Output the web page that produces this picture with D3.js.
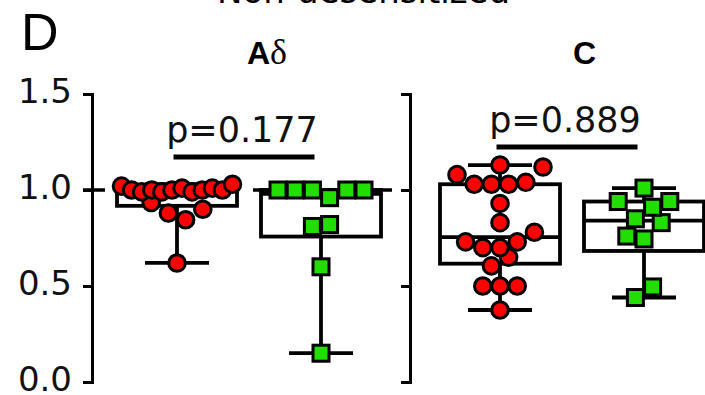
<!DOCTYPE html>
<html>
<head>
<meta charset="utf-8">
<script src="https://cdn.jsdelivr.net/npm/d3@7"></script>
<style>
  html, body { margin: 0; padding: 0; background: #fff; }
  svg { display: block; }
</style>
</head>
<body>
<svg id="chart" width="705" height="395"></svg>
<script>
// ---- data -------------------------------------------------------------
const fibreClasses = ["Aδ", "C"];
const groupNames = ["red", "green"];

// normalised responses, one value per unit, in recording order
const adRed   = [1.02, 1.0, 0.99, 1.0, 0.99, 1.0, 1.01, 0.99, 1.0, 1.01, 1.0, 1.03,
                 0.935, 0.88, 0.845, 0.90, 0.62];
const adGreen = [1.0, 1.0, 1.0, 0.96, 1.0, 1.0, 0.81, 0.82, 0.60, 0.15];
const cRed    = [1.13, 1.08, 1.03, 1.03, 1.03, 1.04, 1.12, 0.93, 0.83,
                 0.73, 0.70, 0.70, 0.73, 0.78, 0.605, 0.65, 0.50, 0.50, 0.50, 0.375];
const cGreen  = [1.01, 0.94, 0.85, 0.91, 0.94, 0.76, 0.745, 0.83, 0.44, 0.495];

const pLabels   = ["p=0.177", "p=0.889"];
const pBarLevel = [1.172, 1.224];
const yTicks    = [0, 0.5, 1.0, 1.5];

// ---- layout -------------------------------------------------------------
const svg = d3.select("#chart");

const y = d3.scaleLinear().domain([0, 1.5]).range([382, 94]);

const panelAxisX = [92, 410];
const panelFirstX = [177, 500];
const groupStep = 144;

const colour = { red: "#ff0000", green: "#22dd00" };
const shape  = { red: "circle", green: "square" };

const seriesByPanel = [[adRed, adGreen], [cRed, cGreen]];

const BOX_W = 120, CAP_W = 64;
const DOT_STEP = 17.2, ROW_SPAN = 111, ROW_TOL = 17.5;

const FONT = "'DejaVu Sans', Verdana, sans-serif";

// quartile with the (n+1) rule
function quant(sorted, p) {
  const n = sorted.length, pos = p * (n + 1);
  if (pos <= 1) return sorted[0];
  if (pos >= n) return sorted[n - 1];
  const i = Math.floor(pos), f = pos - i;
  return sorted[i - 1] + f * (sorted[i] - sorted[i - 1]);
}

// rows of points: values close in pixel height share a row, spread about the centre
function layoutRows(values, cx) {
  const idx = values.map((v, i) => i).sort((a, b) => values[a] - values[b] || a - b);
  const rows = [];
  let cur = null;
  idx.forEach(i => {
    if (cur && (y(values[cur[0]]) - y(values[i])) <= ROW_TOL) cur.push(i);
    else { cur = [i]; rows.push(cur); }
  });
  const out = [];
  rows.forEach(r => {
    r.sort((a, b) => a - b);
    const n = r.length;
    const step = n > 1 ? Math.min(DOT_STEP, ROW_SPAN / (n - 1)) : 0;
    r.forEach((i, k) => out.push({ v: values[i], x: cx + (k - (n - 1) / 2) * step, y: y(values[i]) }));
  });
  return out;
}

// ---- header texts --------------------------------------------------------
svg.append("text")
  .attr("x", 217).attr("y", 3)
  .attr("font-family", FONT).attr("font-size", 34).attr("fill", "#000")
  .text("Non-desensitized");

svg.append("text")
  .attr("x", 21).attr("y", 50)
  .attr("font-family", "'Liberation Sans', Arial, sans-serif").attr("font-size", 52)
  .attr("fill", "#000")
  .text("D");

const titleX = [247, 573];
fibreClasses.forEach((name, p) => {
  const t = svg.append("text")
    .attr("x", titleX[p]).attr("y", 64)
    .attr("font-family", "'Liberation Sans', Arial, sans-serif")
    .attr("font-size", 32).attr("font-weight", "bold").attr("fill", "#000");
  t.append("tspan").text(name.charAt(0));
  if (name.length > 1) {
    t.append("tspan")
      .attr("font-family", "'Liberation Serif', 'Times New Roman', serif")
      .attr("font-weight", "normal").attr("font-size", 36)
      .text(name.slice(1));
  }
});

// ---- panels ---------------------------------------------------------------
fibreClasses.forEach((name, p) => {
  const ax = panelAxisX[p];
  const x = d3.scalePoint().domain(groupNames)
    .range([panelFirstX[p], panelFirstX[p] + groupStep]);

  // y axis
  const axis = d3.axisLeft(y).tickValues(yTicks)
    .tickSize(9).tickSizeOuter(9).tickPadding(11)
    .tickFormat(p === 0 ? d3.format(".1f") : () => "");
  const g = svg.append("g").attr("transform", `translate(${ax},0)`).call(axis);
  g.select(".domain").attr("stroke", "#000").attr("stroke-width", 3);
  g.selectAll(".tick line").attr("stroke", "#000").attr("stroke-width", 3);
  g.selectAll(".tick text")
    .attr("font-family", FONT).attr("font-size", 34).attr("fill", "#111")
    .attr("dy", "0.26em");

  // unity line for the Aδ panel, broken behind the red cluster
  if (p === 0) {
    const x0 = ax - 9, x1 = x("green") + 71;
    const a = x("red") - 72, b = x("green") - 68;
    svg.append("line")
      .attr("x1", x0).attr("x2", x1).attr("y1", y(1)).attr("y2", y(1))
      .attr("stroke", "#000").attr("stroke-width", 3.5)
      .attr("stroke-dasharray", `${a - x0},${b - a},${x1 - b}`);
  }

  groupNames.forEach((grp, gi) => {
    const vals = seriesByPanel[p][gi];
    const s = vals.slice().sort(d3.ascending);
    const q1 = quant(s, 0.25), med = quant(s, 0.5), q3 = quant(s, 0.75);
    const lo = s[0], hi = s[s.length - 1];
    const cx = x(grp);
    const bg = svg.append("g").attr("stroke", "#000").attr("stroke-width", 3.8).attr("fill", "none");

    // whiskers
    bg.append("line").attr("x1", cx).attr("x2", cx).attr("y1", y(q3)).attr("y2", y(hi));
    bg.append("line").attr("x1", cx).attr("x2", cx).attr("y1", y(q1)).attr("y2", y(lo));
    bg.append("line").attr("x1", cx - CAP_W / 2).attr("x2", cx + CAP_W / 2).attr("y1", y(hi)).attr("y2", y(hi));
    bg.append("line").attr("x1", cx - CAP_W / 2).attr("x2", cx + CAP_W / 2).attr("y1", y(lo)).attr("y2", y(lo));
    // box and median
    bg.append("rect").attr("x", cx - BOX_W / 2).attr("width", BOX_W)
      .attr("y", y(q3)).attr("height", y(q1) - y(q3));
    bg.append("line").attr("x1", cx - BOX_W / 2).attr("x2", cx + BOX_W / 2)
      .attr("y1", y(med)).attr("y2", y(med));

    // points
    const pts = layoutRows(vals, cx);
    const pg = svg.append("g");
    if (shape[grp] === "circle") {
      pg.selectAll("circle").data(pts).join("circle")
        .attr("cx", d => d.x).attr("cy", d => d.y).attr("r", 8.3)
        .attr("fill", colour[grp]).attr("stroke", "#000").attr("stroke-width", 3);
    } else {
      const side = 16;
      pg.selectAll("rect").data(pts).join("rect")
        .attr("x", d => d.x - side / 2).attr("y", d => d.y - side / 2)
        .attr("width", side).attr("height", side)
        .attr("fill", colour[grp]).attr("stroke", "#000").attr("stroke-width", 3);
    }
  });

  // comparison bar and p value
  const mid = (x("red") + x("green")) / 2;
  const by = y(pBarLevel[p]);
  svg.append("line")
    .attr("x1", mid - 5 - 70.5).attr("x2", mid - 5 + 70.5)
    .attr("y1", by).attr("y2", by)
    .attr("stroke", "#000").attr("stroke-width", 5);
  svg.append("text")
    .attr("x", mid - 7).attr("y", by - 15)
    .attr("text-anchor", "middle")
    .attr("font-family", FONT).attr("font-size", 35).attr("fill", "#111")
    .text(pLabels[p]);
});
</script>
</body>
</html>
